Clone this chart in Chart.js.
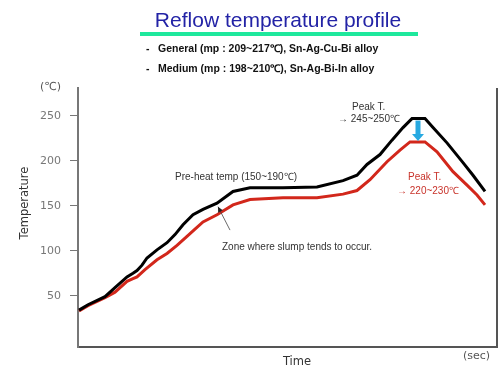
<!DOCTYPE html>
<html lang="en">
<head>
    <meta charset="UTF-8">
    <title>Reflow temperature profile</title>
    <style>
        body { margin: 0; background: #fff; }
        #wrap { width: 502px; height: 376px; }
    </style>
</head>
<body>
    <div id="wrap"><canvas id="reflowChart" width="502" height="376"></canvas></div>

    <script src="https://cdn.jsdelivr.net/npm/chart.js"></script>
    <script>
        // time offsets (no units shown on the axis) and temperatures in degC
        const generalTime = [1, 10, 27, 37, 49, 55, 59, 64, 69, 79, 89, 97, 105, 115, 125, 139, 155, 172, 205, 239, 265, 279, 289, 302, 314, 325, 334, 347, 355, 369, 385, 395, 407];
        const generalTemp = [34, 40, 49, 59, 71, 75, 78, 84, 92, 101, 109, 118, 129, 140, 146, 153, 166, 170, 170, 171, 178, 184, 196, 207, 223, 237, 247, 247, 237, 220, 198, 184, 166];

        const mediumTime = [1, 10, 27, 37, 49, 55, 59, 67, 79, 89, 99, 109, 117, 125, 139, 155, 172, 205, 239, 265, 279, 292, 309, 322, 332, 347, 359, 375, 389, 399, 407];
        const mediumTemp = [33, 39, 48, 54, 66, 69, 71, 79, 90, 97, 106, 116, 124, 132, 140, 151, 157, 159, 159, 163, 167, 179, 199, 212, 221, 221, 210, 188, 173, 162, 151];

        const yTicks = [50, 100, 150, 200, 250];

        const peakDrop = { t: 340, from: 247, to: 221 };
        const slumpArrow = { t0: 152, v0: 123, t1: 140, v1: 149 };

        function toPoints(xs, ys) {
            return xs.map((x, i) => ({ x: x, y: ys[i] }));
        }

        function arrowHead(ctx, x0, y0, x1, y1, size) {
            const a = Math.atan2(y1 - y0, x1 - x0);
            ctx.beginPath();
            ctx.moveTo(x1, y1);
            ctx.lineTo(x1 - size * Math.cos(a - 0.45), y1 - size * Math.sin(a - 0.45));
            ctx.lineTo(x1 - size * Math.cos(a + 0.45), y1 - size * Math.sin(a + 0.45));
            ctx.closePath();
            ctx.fill();
        }

        const decorations = {
            id: 'decorations',
            afterDraw(chart) {
                const ctx = chart.ctx;
                const xs = chart.scales.x;
                const ys = chart.scales.y;
                const area = chart.chartArea;
                ctx.save();

                // right border of the plot
                ctx.strokeStyle = '#555';
                ctx.lineWidth = 2;
                ctx.beginPath();
                ctx.moveTo(area.right, area.top);
                ctx.lineTo(area.right, area.bottom);
                ctx.stroke();

                // title + underline
                ctx.fillStyle = '#2323a6';
                ctx.font = '21px "Liberation Sans", Arial, sans-serif';
                ctx.textAlign = 'center';
                ctx.textBaseline = 'middle';
                ctx.fillText('Reflow temperature profile', 278, 21);
                ctx.fillStyle = '#1ee89c';
                ctx.fillRect(140, 32, 278, 4);

                // bullets
                ctx.fillStyle = '#111';
                ctx.textAlign = 'left';
                ctx.font = 'bold 10.5px "Liberation Sans", Arial, sans-serif';
                ctx.fillText('-', 146, 49);
                ctx.fillText('General (mp : 209~217\u2103), Sn-Ag-Cu-Bi alloy', 158, 49);
                ctx.fillText('-', 146, 69);
                ctx.fillText('Medium (mp : 198~210\u2103), Sn-Ag-Bi-In alloy', 158, 69);

                // axis units and titles
                ctx.fillStyle = '#555';
                ctx.font = '11px "DejaVu Sans", sans-serif';
                ctx.fillText('(\u2103)', 40, 87);
                ctx.fillText('(sec)', 463, 356);
                ctx.font = '11.5px "DejaVu Sans", sans-serif';
                ctx.textAlign = 'center';
                ctx.fillStyle = '#333';
                ctx.fillText('Time', 297, 362);
                ctx.save();
                ctx.translate(25, 203);
                ctx.rotate(-Math.PI / 2);
                ctx.fillText('Temperature', 0, 0);
                ctx.restore();

                // annotations
                ctx.font = '10px "Liberation Sans", Arial, sans-serif';
                ctx.textAlign = 'left';
                ctx.fillStyle = '#333';
                ctx.fillText('Peak T.', 352, 107);
                ctx.fillText('\u2192 245~250\u2103', 338, 119);
                ctx.fillText('Pre-heat temp (150~190\u2103)', 175, 177);
                ctx.fillText('Zone where slump tends to occur.', 222, 247);
                ctx.fillStyle = '#c8322a';
                ctx.fillText('Peak T.', 408, 177);
                ctx.fillText('\u2192 220~230\u2103', 397, 191);

                // slump arrow
                const sx0 = xs.getPixelForValue(slumpArrow.t0), sy0 = ys.getPixelForValue(slumpArrow.v0);
                const sx1 = xs.getPixelForValue(slumpArrow.t1), sy1 = ys.getPixelForValue(slumpArrow.v1);
                ctx.strokeStyle = '#444';
                ctx.fillStyle = '#222';
                ctx.lineWidth = 0.8;
                ctx.beginPath();
                ctx.moveTo(sx0, sy0);
                ctx.lineTo(sx1, sy1);
                ctx.stroke();
                arrowHead(ctx, sx0, sy0, sx1, sy1, 6);

                // blue drop arrow between peaks
                const px = xs.getPixelForValue(peakDrop.t);
                const py0 = ys.getPixelForValue(peakDrop.from) + 2;
                const py1 = ys.getPixelForValue(peakDrop.to) - 1;
                ctx.strokeStyle = '#27a9e1';
                ctx.fillStyle = '#27a9e1';
                ctx.lineWidth = 5;
                ctx.beginPath();
                ctx.moveTo(px, py0);
                ctx.lineTo(px, py1 - 6);
                ctx.stroke();
                ctx.beginPath();
                ctx.moveTo(px - 6, py1 - 7);
                ctx.lineTo(px + 6, py1 - 7);
                ctx.lineTo(px, py1);
                ctx.closePath();
                ctx.fill();

                ctx.restore();
            }
        };

        const ctx = document.getElementById('reflowChart').getContext('2d');
        const chart = new Chart(ctx, {
            type: 'line',
            data: {
                datasets: [
                    {
                        label: 'General',
                        data: toPoints(generalTime, generalTemp),
                        borderColor: '#000',
                        borderWidth: 3,
                        pointRadius: 0,
                        tension: 0,
                        fill: false
                    },
                    {
                        label: 'Medium',
                        data: toPoints(mediumTime, mediumTemp),
                        borderColor: '#d2271b',
                        borderWidth: 3,
                        pointRadius: 0,
                        tension: 0,
                        fill: false
                    }
                ]
            },
            options: {
                responsive: false,
                animation: false,
                layout: { padding: { top: 88, right: 5, left: 0, bottom: 0 } },
                plugins: {
                    legend: { display: false },
                    tooltip: { enabled: false }
                },
                scales: {
                    x: {
                        type: 'linear',
                        min: 0,
                        max: 419,
                        ticks: { display: false },
                        grid: { display: false },
                        border: { color: '#555', width: 2 },
                        afterFit: (scale) => { scale.height = 29; }
                    },
                    y: {
                        min: -7,
                        max: 281,
                        afterBuildTicks: (scale) => {
                            scale.ticks = yTicks.map(v => ({ value: v }));
                        },
                        ticks: {
                            color: '#777',
                            font: { family: '"DejaVu Sans", sans-serif', size: 11 },
                            padding: 9
                        },
                        grid: {
                            drawOnChartArea: false,
                            tickLength: 8,
                            color: '#777',
                            tickWidth: 1
                        },
                        border: { color: '#777', width: 2 },
                        afterFit: (scale) => { scale.width = 78; }
                    }
                }
            },
            plugins: [decorations]
        });
    </script>
</body>
</html>
